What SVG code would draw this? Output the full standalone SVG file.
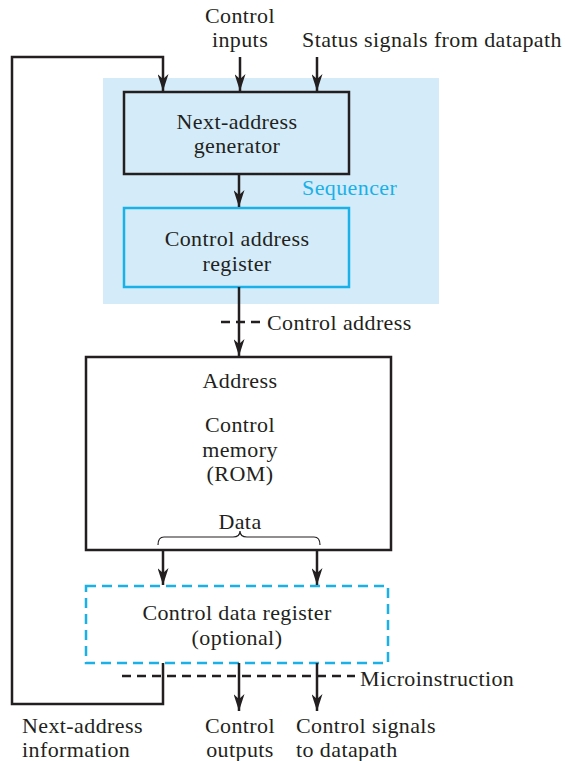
<svg xmlns="http://www.w3.org/2000/svg" width="565" height="761" viewBox="0 0 565 761">
<defs>
<style>
text{font-family:"Liberation Serif","Times New Roman",serif;font-size:22px;letter-spacing:0.4px;fill:#231f20}
.c{text-anchor:middle}
.blue{fill:#1ab0e8}
.ln{fill:none;stroke:#231f20;stroke-width:2.5}
.box{stroke:#231f20;stroke-width:2.5}
.dash{fill:none;stroke:#231f20;stroke-width:2.5;stroke-dasharray:9,6}
</style>
<marker id="ad" viewBox="0 0 11 17" refX="5.5" refY="17" markerWidth="11" markerHeight="17" markerUnits="userSpaceOnUse" orient="0">
<path d="M0,0 L5.5,5 L11,0 L5.5,17 Z" fill="#231f20"/>
</marker>
</defs>
<rect id="sequencer-bg" x="103" y="78" width="336" height="226" fill="#d4ecf9"/>
<text class="blue" x="302" y="195">Sequencer</text>
<g id="next-address-generator">
<rect class="box" x="124" y="92" width="225" height="82" fill="#d4ecf9"/>
<text class="c" x="237" y="129">Next-address</text>
<text class="c" x="237" y="153">generator</text>
</g>
<g id="control-address-register">
<rect x="124" y="208" width="225" height="79" fill="#d4ecf9" stroke="#1ab0e8" stroke-width="2.5"/>
<text class="c" x="237" y="246">Control address</text>
<text class="c" x="237" y="271">register</text>
</g>
<g id="control-memory">
<rect class="box" x="86" y="357" width="305" height="193" fill="#fff"/>
<text class="c" x="240" y="388">Address</text>
<text class="c" x="240" y="432">Control</text>
<text class="c" x="240" y="457">memory</text>
<text class="c" x="240" y="481">(ROM)</text>
<text class="c" x="240" y="529">Data</text>
<path d="M158,545 Q158,537 164,537 L233,537 Q240,537 240,531 Q240,537 247,537 L314,537 Q320,537 320,545" fill="none" stroke="#231f20" stroke-width="1.2"/>
</g>
<g id="control-data-register">
<rect x="86" y="586" width="302" height="77" fill="none" stroke="#1ab0e8" stroke-width="2.5" stroke-dasharray="10,6"/>
<text class="c" x="237" y="620">Control data register</text>
<text class="c" x="237" y="645">(optional)</text>
</g>
<g id="labels">
<text class="c" x="240" y="23">Control</text>
<text class="c" x="240" y="47">inputs</text>
<text x="302" y="47">Status signals from datapath</text>
<text x="267" y="330">Control address</text>
<text x="360" y="686">Microinstruction</text>
<text x="22" y="733">Next-address</text>
<text x="22" y="757">information</text>
<text class="c" x="240" y="733">Control</text>
<text class="c" x="240" y="757">outputs</text>
<text x="296" y="733">Control signals</text>
<text x="296" y="757">to datapath</text>
</g>
<g id="connectors">
<path class="ln" d="M240,57 V91" marker-end="url(#ad)"/>
<path class="ln" d="M317,57 V91" marker-end="url(#ad)"/>
<path class="ln" d="M163,663 V704 H12 V57 H163 V91" marker-end="url(#ad)"/>
<path class="ln" d="M239,174 V207" marker-end="url(#ad)"/>
<path class="ln" d="M239,287 V356" marker-end="url(#ad)"/>
<path class="dash" d="M221,322 H262"/>
<path class="ln" d="M163,550 V585" marker-end="url(#ad)"/>
<path class="ln" d="M317,550 V585" marker-end="url(#ad)"/>
<path class="ln" d="M239,663 V711" marker-end="url(#ad)"/>
<path class="ln" d="M317,663 V711" marker-end="url(#ad)"/>
<path class="dash" d="M122,676 H355"/>
</g>
</svg>
